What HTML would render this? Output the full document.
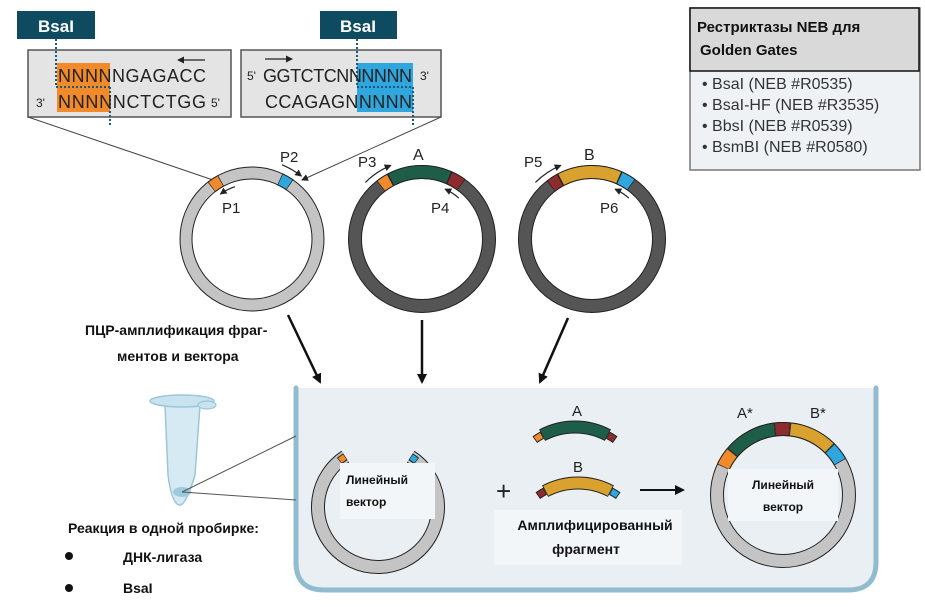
<!DOCTYPE html>
<html><head><meta charset="utf-8">
<style>
body{margin:0;background:#fff;width:925px;height:607px;overflow:hidden}
svg{display:block}
.b{font-family:"Liberation Sans","DejaVu Sans",sans-serif;font-weight:bold}
.s{font-family:"Liberation Sans",sans-serif}
.seq{font-family:"Liberation Sans",sans-serif;font-size:18px;fill:#222}
</style></head><body>
<svg id="sv" width="925" height="607" viewBox="0 0 925 607" xmlns="http://www.w3.org/2000/svg">
<defs>
<marker id="ah" markerWidth="10" markerHeight="10" refX="8" refY="5" orient="auto" markerUnits="userSpaceOnUse"><path d="M0,0 L10,5 L0,10 Z" fill="#111"/></marker>
<marker id="sh" markerWidth="7" markerHeight="7" refX="6" refY="3.5" orient="auto" markerUnits="userSpaceOnUse"><path d="M0,0 L7,3.5 L0,7 Z" fill="#222"/></marker>
</defs>

<rect x="28" y="50" width="203" height="67" fill="#e4e4e4" stroke="#555" stroke-width="1.5"/>
<rect x="57" y="63" width="53" height="49" fill="#f08a2a"/>
<rect x="241" y="50" width="200" height="67" fill="#e4e4e4" stroke="#555" stroke-width="1.5"/>
<rect x="357" y="63" width="56" height="49" fill="#2fa7de"/>
<rect x="17" y="11" width="78" height="28" fill="#0e4a60"/>
<text x="56" y="32" class="b" font-size="17" fill="#fff" text-anchor="middle">BsaI</text>
<rect x="320" y="11" width="77" height="28" fill="#0e4a60"/>
<text x="358" y="32" class="b" font-size="17" fill="#fff" text-anchor="middle">BsaI</text>
<g stroke="#1a5a78" stroke-width="2" stroke-dasharray="2,2">
<line x1="56" y1="39" x2="56" y2="87"/><line x1="56" y1="87" x2="110" y2="87"/><line x1="110" y1="87" x2="110" y2="125"/>
<line x1="357" y1="39" x2="357" y2="87"/><line x1="357" y1="87" x2="413" y2="87"/><line x1="413" y1="87" x2="413" y2="125"/>
</g>
<text x="58" y="82" class="seq" textLength="148" lengthAdjust="spacing">NNNNNGAGACC</text>
<text x="36" y="107" class="s" font-size="12" fill="#222">3'</text>
<text x="58" y="108" class="seq" textLength="148" lengthAdjust="spacing">NNNNNCTCTGG</text>
<text x="211" y="107" class="s" font-size="12" fill="#222">5'</text>
<line x1="205" y1="60" x2="178" y2="60" stroke="#222" stroke-width="1.3" marker-end="url(#sh)"/>
<text x="247" y="80" class="s" font-size="12" fill="#222">5'</text>
<text x="263" y="82" class="seq" textLength="149" lengthAdjust="spacing">GGTCTCNNNNNN</text>
<text x="420" y="80" class="s" font-size="12" fill="#222">3'</text>
<text x="265" y="108" class="seq" textLength="147" lengthAdjust="spacing">CCAGAGNNNNN</text>
<line x1="265" y1="59" x2="292" y2="59" stroke="#222" stroke-width="1.3" marker-end="url(#sh)"/>
<line x1="28" y1="117" x2="213" y2="180" stroke="#444" stroke-width="1"/>
<line x1="441" y1="117" x2="302" y2="180" stroke="#444" stroke-width="1" marker-end="url(#sh)"/>

<g id="plas"></g>

<text x="280" y="162" class="s" font-size="15" fill="#222">P2</text>
<text x="222" y="213" class="s" font-size="15" fill="#222">P1</text>
<text x="358" y="167" class="s" font-size="15" fill="#222">P3</text>
<text x="413" y="160" class="s" font-size="16" fill="#222">A</text>
<text x="431" y="213" class="s" font-size="15" fill="#222">P4</text>
<text x="524" y="167" class="s" font-size="15" fill="#222">P5</text>
<text x="584" y="160" class="s" font-size="16" fill="#222">B</text>
<text x="600" y="213" class="s" font-size="15" fill="#222">P6</text>

<rect x="690" y="8" width="230" height="162" fill="#eef2f5" stroke="#777" stroke-width="1.5"/>
<rect x="690" y="8" width="229" height="63" fill="#d9d9d9" stroke="#111" stroke-width="1.5"/>
<text x="697" y="32" class="b" font-size="15" fill="#111">Рестриктазы NEB для</text>
<text x="700" y="55" class="b" font-size="15" fill="#111">Golden Gates</text>
<g class="s" font-size="16" fill="#333">
<text x="702" y="89">• BsaI (NEB #R0535)</text>
<text x="702" y="110">• BsaI-HF (NEB #R3535)</text>
<text x="702" y="131">• BbsI (NEB #R0539)</text>
<text x="702" y="152">• BsmBI (NEB #R0580)</text>
</g>

<g stroke="#111" stroke-width="2.5">
<line x1="288" y1="315" x2="320" y2="382" marker-end="url(#ah)"/>
<line x1="422" y1="320" x2="422" y2="382" marker-end="url(#ah)"/>
<line x1="568" y1="318" x2="540" y2="382" marker-end="url(#ah)"/>
</g>
<text x="85" y="335" class="b" font-size="14" fill="#111">ПЦР-амплификация фраг-</text>
<text x="117" y="361" class="b" font-size="14" fill="#111">ментов и вектора</text>

<path d="M296,388 L296,562 Q296,590 324,590 L848,590 Q876,590 876,562 L876,388 Z" fill="#e9eff3"/>
<path d="M296,388 L296,562 Q296,590 324,590 L848,590 Q876,590 876,562 L876,388" fill="none" stroke="#91bcd0" stroke-width="5" stroke-linecap="round"/>

<path d="M165,405 L200,405 L195,475 Q186,505 180,505 Q172,505 168,475 Z" fill="#d6eaf4" stroke="#9cc6da" stroke-width="1.5"/>
<ellipse cx="182" cy="401" rx="32" ry="6" fill="#c8e2ef" stroke="#9cc6da" stroke-width="1.5"/>
<ellipse cx="207" cy="405" rx="9" ry="4" fill="#c8e2ef" stroke="#9cc6da" stroke-width="1.2"/>
<ellipse cx="182" cy="492" rx="9" ry="5" fill="#9ccbe0"/>
<line x1="182" y1="492" x2="296" y2="436" stroke="#555" stroke-width="1"/>
<line x1="182" y1="492" x2="296" y2="500" stroke="#555" stroke-width="1"/>
<text x="68" y="533" class="b" font-size="14" fill="#111">Реакция в одной пробирке:</text>
<circle cx="69" cy="556" r="4" fill="#111"/>
<text x="123" y="562" class="b" font-size="14" fill="#111">ДНК-лигаза</text>
<circle cx="69" cy="588" r="4" fill="#111"/>
<text x="123" y="593" class="b" font-size="14" fill="#111">BsaI</text>

<g id="plas2"></g>
<text x="496" y="500" class="s" font-size="26" fill="#222">+</text>
<line x1="640" y1="490" x2="683" y2="490" stroke="#111" stroke-width="2" marker-end="url(#ah)"/>
<text x="577" y="416" class="s" font-size="15" fill="#222" text-anchor="middle">A</text>
<text x="578" y="472" class="s" font-size="15" fill="#222" text-anchor="middle">B</text>
<text x="737" y="418" class="s" font-size="15" fill="#222">A*</text>
<text x="810" y="418" class="s" font-size="15" fill="#222">B*</text>

<rect x="340" y="463" width="95" height="56" fill="#f3f6f9"/>
<text x="346" y="484" class="b" font-size="12" fill="#111">Линейный</text>
<text x="346" y="506" class="b" font-size="12" fill="#111">вектор</text>
<rect x="494" y="510" width="188" height="55" fill="#f3f6f9"/>
<text x="595" y="530" class="b" font-size="14" fill="#111" text-anchor="middle">Амплифицированный</text>
<text x="586" y="554" class="b" font-size="14" fill="#111" text-anchor="middle">фрагмент</text>
<rect x="728" y="469" width="110" height="52" fill="#f3f6f9"/>
<text x="783" y="489" class="b" font-size="12" fill="#111" text-anchor="middle">Линейный</text>
<text x="783" y="511" class="b" font-size="12" fill="#111" text-anchor="middle">вектор</text>
</svg>
<script>
function pt(cx,cy,r,a){a=a*Math.PI/180;return [cx+r*Math.cos(a),cy-r*Math.sin(a)];}
function arc(cx,cy,r,a1,a2){var p=pt(cx,cy,r,a1),q=pt(cx,cy,r,a2);var large=Math.abs(a2-a1)>180?1:0;var sweep=a2>a1?0:1;return "M"+p[0].toFixed(1)+","+p[1].toFixed(1)+" A"+r+","+r+" 0 "+large+" "+sweep+" "+q[0].toFixed(1)+","+q[1].toFixed(1);}
var out="";
function ring(cx,cy,r,w,col,a1,a2){
  if(a1===undefined){out+='<circle cx="'+cx+'" cy="'+cy+'" r="'+r+'" fill="none" stroke="#222" stroke-width="'+(w+2)+'"/><circle cx="'+cx+'" cy="'+cy+'" r="'+r+'" fill="none" stroke="'+col+'" stroke-width="'+w+'"/>';return;}
  out+='<path d="'+arc(cx,cy,r,a1,a2)+'" fill="none" stroke="#222" stroke-width="'+(w+2)+'"/>';
  out+='<path d="'+arc(cx,cy,r,a1+0.6*(a2>a1?1:-1),a2-0.6*(a2>a1?1:-1))+'" fill="none" stroke="'+col+'" stroke-width="'+w+'"/>';
}
var O="#f08a2a",Bl="#2fa7de",G="#1e5e48",R="#8e2b2e",Y="#d9a22e",LG="#c4c4c4",DG="#555";
ring(252,239,66,11,LG);ring(252,239,66,11,O,118,128);ring(252,239,66,11,Bl,55,65);
ring(422,239,67,12,DG);ring(422,239,67,12,O,118,128);ring(422,239,67,12,G,66,118);ring(422,239,67,12,R,54,66);
ring(592,239,67,12,DG);ring(592,239,67,12,R,118,128);ring(592,239,67,12,Y,66,118);ring(592,239,67,12,Bl,54,66);
function parr(cx,cy,r,a1,a2){out+='<path d="'+arc(cx,cy,r,a1,a2)+'" fill="none" stroke="#222" stroke-width="1.2" marker-end="url(#sh)"/>';}
parr(252,239,80,68,52);parr(252,239,55,108,125);
parr(422,239,80,135,113);parr(422,239,55,48,65);
parr(592,239,80,135,113);parr(592,239,55,48,65);
document.getElementById("plas").innerHTML=out;
out="";
(function(){var cx=378,cy=507,r=60;var p=pt(cx,cy,r,123),q=pt(cx,cy,r,57);
var d="M"+p[0]+","+p[1]+" A"+r+","+r+" 0 1 0 "+q[0]+","+q[1];
out+='<path d="'+d+'" fill="none" stroke="#222" stroke-width="14"/><path d="'+d+'" fill="none" stroke="'+LG+'" stroke-width="12"/>';})();
ring(378,507,60,6,O,123,130);
ring(378,507,60,6,Bl,50,57);
ring(575,497,70,11,G,118,62);ring(575,497,70,6,O,125,118);ring(575,497,70,6,R,62,55);
ring(578,553,70,11,Y,118,62);ring(578,553,70,6,R,125,118);ring(578,553,70,6,Bl,62,55);
var fx=783,fy=495,fr=66;
ring(fx,fy,fr,12,LG);ring(fx,fy,fr,12,O,140,155);ring(fx,fy,fr,12,G,97,140);ring(fx,fy,fr,12,R,84,97);ring(fx,fy,fr,12,Y,45,84);ring(fx,fy,fr,12,Bl,30,45);
document.getElementById("plas2").innerHTML=out;
</script>
</body></html>
